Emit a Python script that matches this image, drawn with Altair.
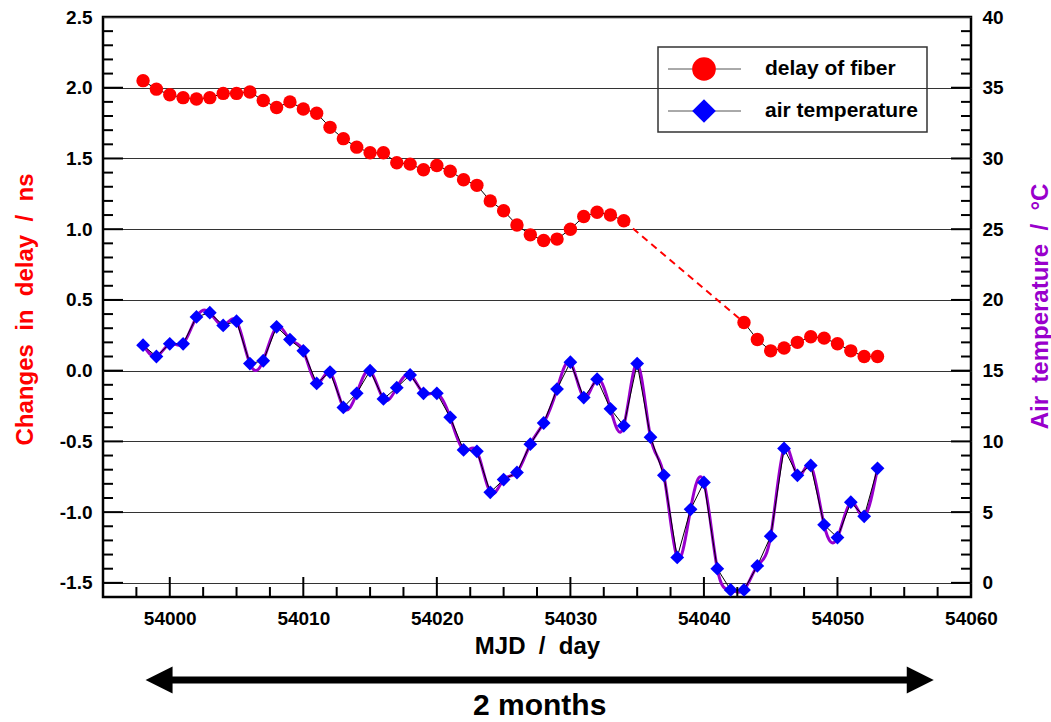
import altair as alt
import pandas as pd

# ---- data -------------------------------------------------------------
# Daily change of the fiber delay (ns); no readings between MJD 54035 and 54042
DELAY_MJD = list(range(53998, 54035)) + list(range(54043, 54054))
DELAY_NS = [2.05, 1.99, 1.95, 1.93, 1.92, 1.93, 1.96, 1.96, 1.97, 1.91,
            1.86, 1.90, 1.85, 1.82, 1.72, 1.64, 1.58, 1.54, 1.54, 1.47,
            1.46, 1.42, 1.45, 1.41, 1.35, 1.31, 1.20, 1.13, 1.03, 0.96,
            0.92, 0.93, 1.00, 1.09, 1.12, 1.10, 1.06,
            0.34, 0.22, 0.14, 0.16, 0.20, 0.24, 0.23, 0.19, 0.14, 0.10, 0.10]

# Daily air temperature (deg C)
TEMP_MJD = list(range(53998, 54054))
TEMP_C = [16.8, 16.0, 16.9, 16.9, 18.8, 19.1, 18.2, 18.5, 15.5, 15.7,
          18.1, 17.2, 16.4, 14.1, 14.9, 12.4, 13.4, 15.0, 13.0, 13.8,
          14.7, 13.4, 13.4, 11.7, 9.4, 9.3, 6.4, 7.3, 7.8, 9.8,
          11.3, 13.7, 15.6, 13.1, 14.4, 12.3, 11.1, 15.5, 10.3, 7.6,
          1.8, 5.2, 7.1, 1.0, -0.5, -0.5, 1.2, 3.3, 9.5, 7.6,
          8.3, 4.1, 3.2, 5.7, 4.7, 8.1]

X_LABELS = [54000, 54010, 54020, 54030, 54040, 54050, 54060]
Y_LEFT_LABELS = [-1.5, -1.0, -0.5, 0.0, 0.5, 1.0, 1.5, 2.0, 2.5]
Y_RIGHT_LABELS = [0, 5, 10, 15, 20, 25, 30, 35, 40]

SERIES = ["delay of fiber", "air temperature"]
ARROW_MJD = [53999.2, 54056.2]   # centres of the two arrow heads
ARROW_TEXT = "2 months"

# ---- styling ----------------------------------------------------------
FONT = "Liberation Sans"
W, H = 868, 580
RED, BLUE, PURPLE = "#ff0000", "#0000ff", "#9900cc"
SP = "\u00a0\u00a0"   # wide gap between title words (kept by SVG)

X_SCALE = alt.Scale(domain=[53995, 54060], nice=False, zero=False)
Y_DELAY = alt.Scale(domain=[-1.6, 2.5], nice=False, zero=False)
Y_TEMP = alt.Scale(domain=[-1, 40], nice=False, zero=False)

# the same x axis definition is given to every layer that uses the x scale
x_axis = alt.Axis(values=X_LABELS, format="d", title=f"MJD{SP}/{SP}day",
                  ticks=False, domain=False, grid=False,
                  labelPadding=12, labelFlush=False, labelOverlap=False,
                  titleY=56, titleBaseline="alphabetic")
y_left_axis = alt.Axis(values=Y_LEFT_LABELS, format=".1f",
                       labelExpr="replace(datum.label, '\u2212', '-')",
                       title=f"Changes{SP}in{SP}delay{SP}/{SP}ns", titleColor=RED,
                       ticks=False, domain=False,
                       grid=True, gridColor="#333333", gridWidth=1.2,
                       labelPadding=11, labelOverlap=False, labelFlush=False,
                       titleAngle=270, titleX=-71, titleY=292,
                       titleAlign="center", titleBaseline="alphabetic")
y_right_axis = alt.Axis(orient="right", values=Y_RIGHT_LABELS, format="d",
                        title=f"Air{SP}temperature{SP}/{SP}\u00b0C", titleColor=PURPLE,
                        ticks=False, domain=False, grid=False,
                        labelPadding=11, labelOverlap=False, labelFlush=False,
                        titleAngle=270, titleX=76, titleY=289,
                        titleAlign="center", titleBaseline="alphabetic")


def xq(field):
    return alt.X(f"{field}:Q", scale=X_SCALE, axis=x_axis)


def y_delay(field, axis=None):
    return alt.Y(f"{field}:Q", scale=Y_DELAY, axis=axis)


def y_temp(field, axis=None):
    return alt.Y(f"{field}:Q", scale=Y_TEMP, axis=axis)


# ---- frames -----------------------------------------------------------
delay = pd.DataFrame({"mjd": DELAY_MJD, "delay": DELAY_NS})
delay["run"] = ["first" if d <= 54034 else "second" for d in DELAY_MJD]
gap = pd.concat([delay[delay["run"] == "first"].tail(1),
                 delay[delay["run"] == "second"].head(1)])

temp = pd.DataFrame({"mjd": TEMP_MJD, "temp": TEMP_C})
one = pd.DataFrame({"k": [0]})

# ---- delay series (left scale) ---------------------------------------
red_line = alt.Chart(delay).mark_line(color="black", strokeWidth=1).encode(
    x=xq("mjd"), y=y_delay("delay"), detail="run:N")
red_gap = alt.Chart(gap).mark_line(color=RED, strokeWidth=2, strokeDash=[7, 5]).encode(
    x=xq("mjd"), y=y_delay("delay"))
red_pts = alt.Chart(delay).mark_circle(color=RED, size=180, opacity=1).encode(
    x=xq("mjd"), y=y_delay("delay", y_left_axis))

# ---- temperature series (right scale) --------------------------------
purple_curve = alt.Chart(temp).mark_line(color=PURPLE, strokeWidth=3,
                                         interpolate="natural").encode(
    x=xq("mjd"), y=y_temp("temp", y_right_axis))
black_line = alt.Chart(temp).mark_line(color="black", strokeWidth=1).encode(
    x=xq("mjd"), y=y_temp("temp"))
diamonds = alt.Chart(temp).mark_point(shape="diamond", filled=True, color=BLUE,
                                      size=190, opacity=1).encode(
    x=xq("mjd"), y=y_temp("temp"))

# ---- inward ticks ----------------------------------------------------
left_major = pd.DataFrame({"v": [-1.5, -1.0, -0.5, 0.0, 0.5, 1.0, 1.5, 2.0]})
left_minor = pd.DataFrame({"v": [round(-1.5 + 0.1 * i, 1) for i in range(40)
                                 if i % 5 != 0]})
bottom_major = pd.DataFrame({"v": [54000, 54010, 54020, 54030, 54040, 54050]})
bottom_minor = pd.DataFrame({"v": [53997.5 + 2.5 * i for i in range(25) if i % 4 != 1]})
right_major = pd.DataFrame({"v": [0, 5, 10, 15, 20, 25, 30, 35]})
right_minor = pd.DataFrame({"v": [i for i in range(1, 40) if i % 5 != 0]})


def left_ticks(df, length):
    return alt.Chart(df).mark_rule(color="black", strokeWidth=2).encode(
        y=y_delay("v"), x=alt.value(0), x2=alt.value(length))


def right_ticks(df, length):
    return alt.Chart(df).mark_rule(color="black", strokeWidth=2).encode(
        y=y_temp("v"), x=alt.value(W - length), x2=alt.value(W))


def bottom_ticks(df, length):
    return alt.Chart(df).mark_rule(color="black", strokeWidth=2).encode(
        x=xq("v"), y=alt.value(H - length), y2=alt.value(H))


# ---- legend ----------------------------------------------------------
legend_box = alt.Chart(one).mark_rect(fillOpacity=0, stroke="#333333", strokeWidth=1.5).encode(
    x=alt.value(555), x2=alt.value(824), y=alt.value(30), y2=alt.value(115))


def legend_row(label, ypos, shape, color):
    line = alt.Chart(one).mark_rule(color="#555555", strokeWidth=1).encode(
        x=alt.value(565), x2=alt.value(638), y=alt.value(ypos))
    sym = alt.Chart(one).mark_point(shape=shape, filled=True, color=color,
                                    size=560, opacity=1).encode(
        x=alt.value(601), y=alt.value(ypos))
    txt = alt.Chart(one).mark_text(text=label, align="left", baseline="middle",
                                   font=FONT, fontWeight="bold", fontSize=21,
                                   color="black").encode(
        x=alt.value(662), y=alt.value(ypos))
    return [line, sym, txt]


legend = [legend_box] + legend_row(SERIES[0], 52, "circle", RED) \
    + legend_row(SERIES[1], 94, "diamond", BLUE)

# ---- "2 months" arrow under the axis ---------------------------------
arrow = pd.DataFrame({"start": [ARROW_MJD[0]], "end": [ARROW_MJD[1]],
                      "mid": [(ARROW_MJD[0] + ARROW_MJD[1]) / 2]})
shaft = alt.Chart(arrow).mark_rule(color="black", strokeWidth=7).encode(
    x=xq("start"), x2="end:Q", y=alt.value(663))
head_l = alt.Chart(arrow).mark_point(shape="M-1,0L1,-1L1,1Z", filled=True, color="black",
                                     size=729, opacity=1).encode(
    x=xq("start"), y=alt.value(663))
head_r = alt.Chart(arrow).mark_point(shape="M1,0L-1,-1L-1,1Z", filled=True, color="black",
                                     size=729, opacity=1).encode(
    x=xq("end"), y=alt.value(663))
arrow_text = alt.Chart(arrow).mark_text(text=ARROW_TEXT, align="center", baseline="alphabetic",
                                        font=FONT, fontWeight="bold", fontSize=30,
                                        color="black").encode(
    x=xq("mid"), y=alt.value(698))

# Every y layer carries the same fixed domain, so independent y scales line up
# exactly; only two of them draw an axis (left: ns, right: deg C).
chart = alt.layer(
    red_line, red_gap, red_pts,
    purple_curve, black_line, diamonds,
    left_ticks(left_major, 20), left_ticks(left_minor, 10),
    right_ticks(right_major, 20), right_ticks(right_minor, 10),
    bottom_ticks(bottom_major, 20), bottom_ticks(bottom_minor, 10),
    *legend, shaft, head_l, head_r, arrow_text,
).resolve_scale(
    y="independent"
).properties(
    width=W, height=H,
    autosize=alt.AutoSizeParams(type="none"),
    padding={"left": 103, "top": 17, "right": 80, "bottom": 125},
    background="white",
).configure_view(
    stroke="black", strokeWidth=2.5,
).configure_axis(
    labelFont=FONT, labelFontWeight="bold", labelFontSize=19, labelColor="black",
    titleFont=FONT, titleFontWeight="bold", titleFontSize=24,
)

chart.save("out.html", embed_options={"renderer": "svg", "actions": False})
